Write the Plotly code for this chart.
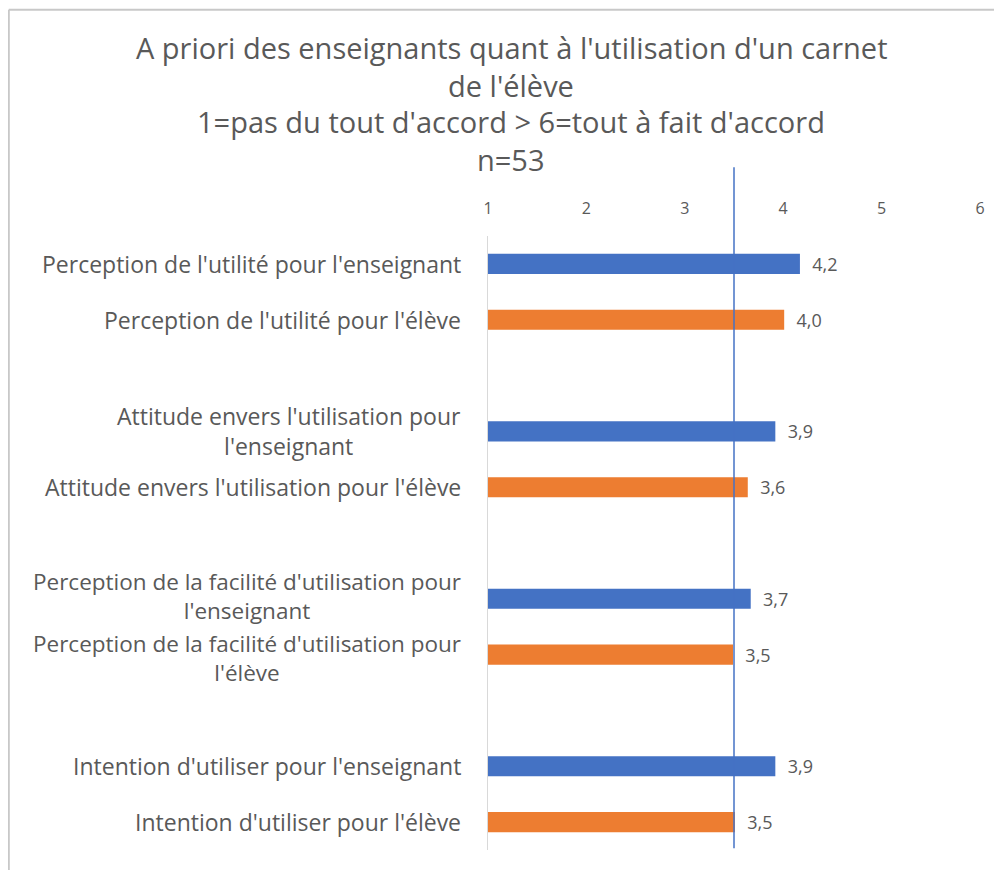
import plotly.graph_objects as go

# Data (scale 1 to 6)
categories = [
    "Perception de l'utilité pour l'enseignant",
    "Perception de l'utilité pour l'élève",
    "Attitude envers l'utilisation pour<br>l'enseignant",
    "Attitude envers l'utilisation pour l'élève",
    "Perception de la facilité d'utilisation pour<br>l'enseignant",
    "Perception de la facilité d'utilisation pour<br>l'élève",
    "Intention d'utiliser pour l'enseignant",
    "Intention d'utiliser pour l'élève",
]
values = [4.17, 4.01, 3.92, 3.64, 3.67, 3.49, 3.92, 3.51]
series = ["enseignant", "élève", "enseignant", "élève",
          "enseignant", "élève", "enseignant", "élève"]
spacers = [" ", "  ", "   "]
reference_value = 3.5
tick_values = [1, 2, 3, 4, 5, 6]
title_lines = [
    "A priori des enseignants quant à l'utilisation d'un carnet",
    "de l'élève",
    "1=pas du tout d'accord > 6=tout à fait d'accord",
    "n=53",
]

colors = {"enseignant": "#4472C4", "élève": "#ED7D31"}
font_family = "'Open Sans', sans-serif"
text_color = "#595959"

# Insert an empty slot between each pair of categories
y_order = []
x_vals = []
bar_colors = []
labels = []
for i, cat in enumerate(categories):
    y_order.append(cat)
    x_vals.append(values[i])
    bar_colors.append(colors[series[i]])
    labels.append("\u00a0\u00a0" + f"{values[i]:.1f}".replace(".", ","))
    if i % 2 == 1 and i // 2 < len(spacers):
        y_order.append(spacers[i // 2])
        x_vals.append(None)
        bar_colors.append("#ffffff")
        labels.append("")

fig = go.Figure(go.Bar(
    y=y_order,
    x=x_vals,
    orientation="h",
    width=0.36,
    marker=dict(color=bar_colors, line=dict(width=0)),
    text=labels,
    textposition="outside",
    constraintext="none",
    cliponaxis=False,
    textfont=dict(size=18, color=text_color, family=font_family),
    showlegend=False,
))

# Category labels, centred line by line like the original.
# The two stacked two-line labels are nudged apart slightly.
for i, cat in enumerate(categories):
    size = 23
    shift = 0
    if i == 4:
        size, shift = 22.5, 3
    elif i == 5:
        size, shift = 22.5, -3
    fig.add_annotation(x=-0.05, xref="paper", y=cat, yref="y",
                       text=cat, showarrow=False, yshift=shift,
                       xanchor="right", yanchor="middle", align="center",
                       font=dict(size=size, color=text_color, family=font_family))

# Title, one annotation per line to keep the original line spacing
title_y = [1.3078, 1.2459, 1.1857, 1.1238]
for line, ty in zip(title_lines, title_y):
    fig.add_annotation(x=0.047, xref="paper", y=ty, yref="paper",
                       text=line, showarrow=False,
                       xanchor="center", yanchor="middle",
                       font=dict(size=29, color=text_color, family=font_family))

# Reference line at the middle of the scale
fig.add_shape(type="line", xref="x", yref="paper",
              x0=reference_value, x1=reference_value, y0=0.003, y1=1.112,
              line=dict(color="#4472C4", width=1.5))

# Chart border (top and left edges visible)
fig.add_shape(type="line", xref="paper", yref="paper",
              x0=-0.974, x1=1.05, y0=1.3685, y1=1.3685,
              line=dict(color="#C8C8C8", width=2))
fig.add_shape(type="line", xref="paper", yref="paper",
              x0=-0.974, x1=-0.974, y0=1.3685, y1=-0.04,
              line=dict(color="#C8C8C8", width=2))

fig.update_layout(
    width=994,
    height=862,
    margin=dict(l=480, r=22, t=228, b=20),
    paper_bgcolor="white",
    plot_bgcolor="white",
    xaxis=dict(
        range=[1, 6],
        side="top",
        tickvals=tick_values,
        showgrid=False,
        zeroline=False,
        showline=False,
        ticks="",
        ticklabelstandoff=18,
        tickfont=dict(size=16, color=text_color, family=font_family),
    ),
    yaxis=dict(
        categoryorder="array",
        categoryarray=y_order,
        autorange="reversed",
        showgrid=False,
        showline=True,
        linecolor="#D9D9D9",
        linewidth=1,
        ticks="",
        showticklabels=False,
    ),
)

fig.write_html("out.html")
